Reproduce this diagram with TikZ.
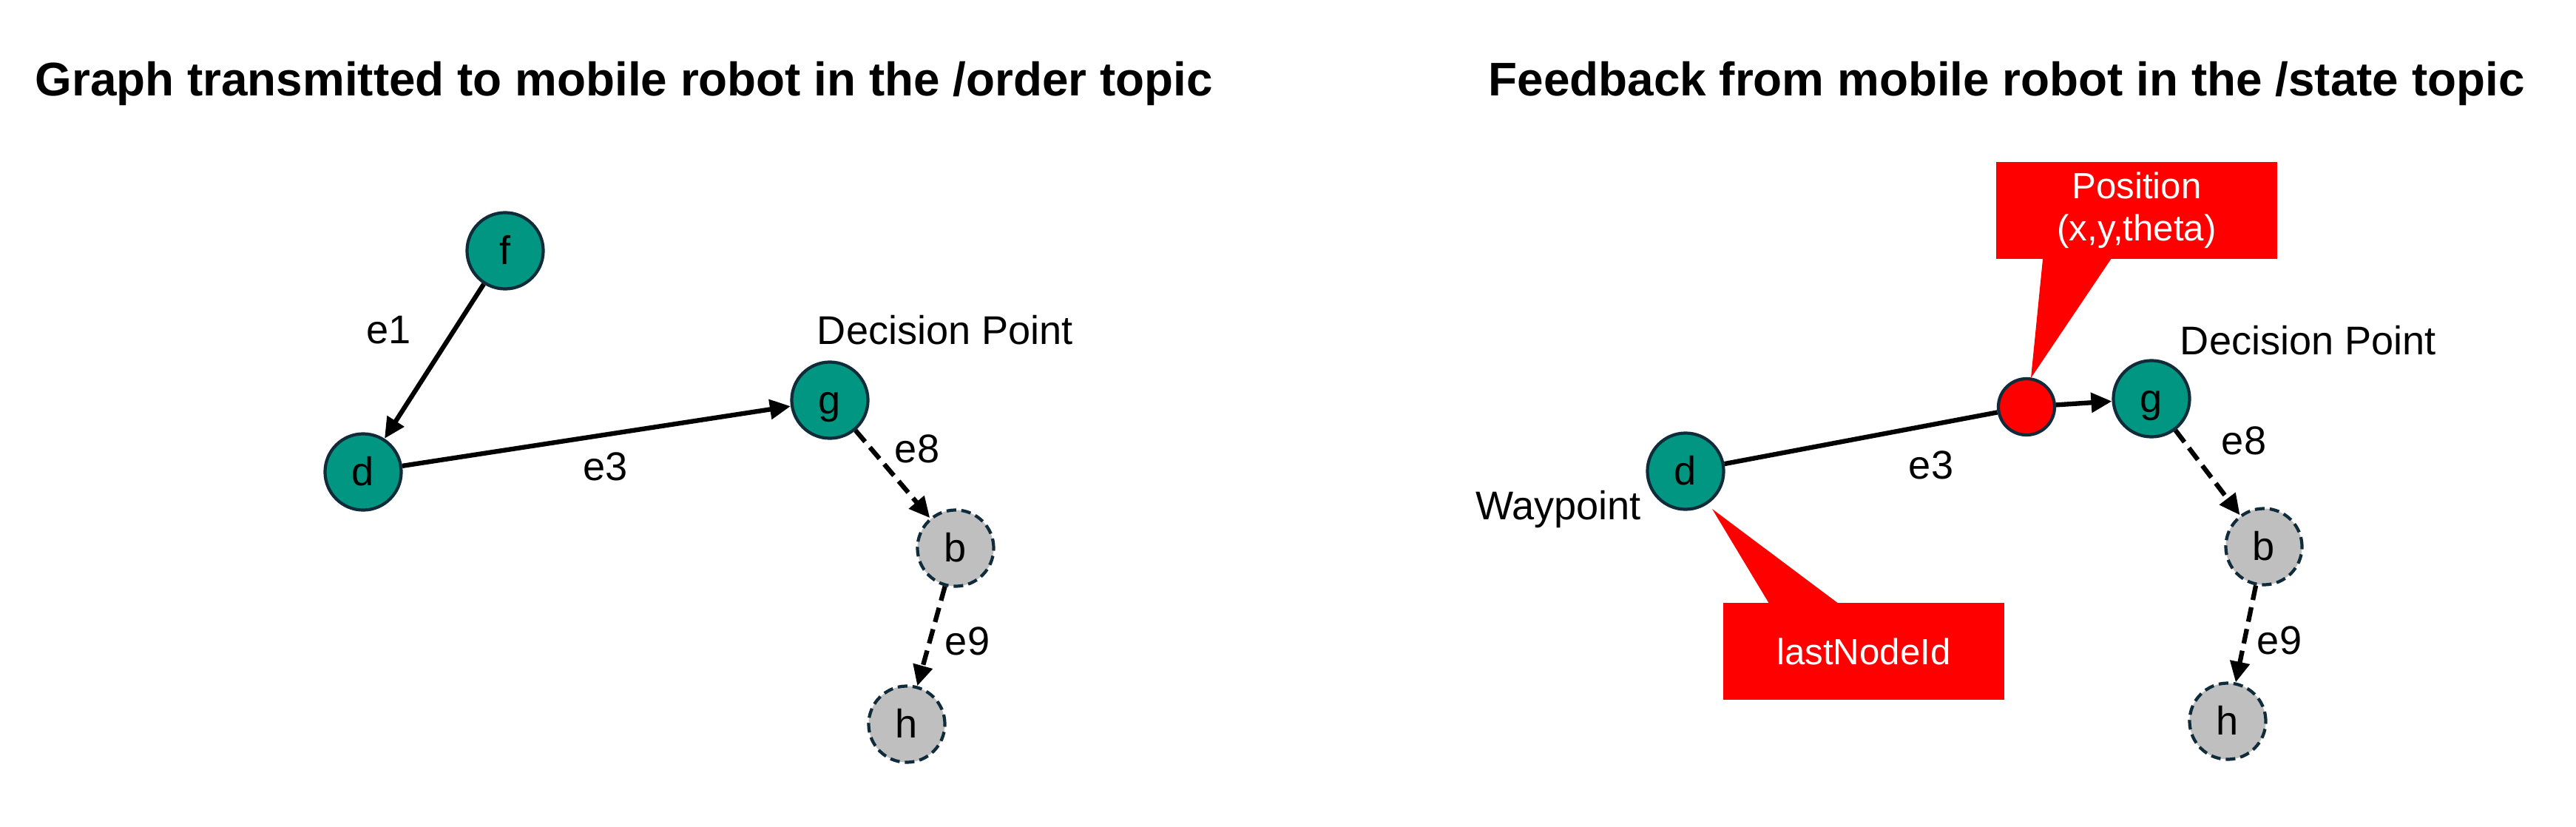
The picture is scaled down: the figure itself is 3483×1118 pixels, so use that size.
\documentclass[tikz,border=0pt]{standalone}
\usepackage{fontspec}
\setmainfont{Liberation Sans}
\usetikzlibrary{arrows.meta,calc}
\definecolor{tealfill}{RGB}{0,150,130}
\definecolor{navyline}{RGB}{16,43,58}
\definecolor{grayfill}{RGB}{191,191,191}
\definecolor{calloutred}{RGB}{255,0,0}
\tikzset{
  vtx/.style={circle,draw=navyline,line width=1.2pt,fill=tealfill,minimum size=1.03cm,inner sep=0pt,
    font=\fontsize{15.4pt}{18pt}\selectfont,text height=0.49cm,text depth=0.116cm},
  ghost/.style={vtx,fill=grayfill,dash pattern=on 0.13cm off 0.07cm},
  robot/.style={circle,draw=navyline,line width=1.2pt,fill=calloutred,minimum size=0.76cm,inner sep=0pt},
  lbl/.style={font=\fontsize{15.4pt}{18pt}\selectfont,inner sep=0pt},
  ttl/.style={font=\fontsize{18.15pt}{21pt}\selectfont\bfseries,inner sep=0pt,anchor=base west},
  edge/.style={line width=1.8pt,-{Triangle[length=0.28cm,width=0.26cm]}},
  plainedge/.style={line width=1.8pt},
  dashedge/.style={edge,dash pattern=on 0.2cm off 0.1cm},
  callout/.style={fill=calloutred,text=white,inner sep=0pt,align=center,
    font=\fontsize{14pt}{16.2pt}\selectfont},
}
\begin{document}
\begin{tikzpicture}[x=0.01cm,y=-0.01cm]
\useasboundingbox (0,0) rectangle (3483,1118);
% titles
\node[ttl] (t1) at (47,129) {Graph transmitted to mobile robot in the /order topic};
\node[ttl] (t2) at (2012,129) {Feedback from mobile robot in the /state topic};
% left graph
\node[vtx] (f) at (683,339) {f};
\node[vtx] (d) at (491,638) {d};
\node[vtx] (g) at (1122,541) {g};
\node[ghost] (b) at (1292,741) {b};
\node[ghost] (h) at (1226,979) {h};
\draw[edge] (f) -- (d);
\draw[edge] (d) -- (g);
\draw[dashedge] (g) -- (b);
\draw[dashedge] (b) -- (h);
\node[lbl] (le1) at (526,446) {e1};
\node[lbl] (le3) at (819,631) {e3};
\node[lbl] (le8) at (1240,607) {e8};
\node[lbl] (le9) at (1308,867) {e9};
\node[lbl] (ldp) at (1278,446) {Decision Point};
% right graph
\node[vtx] (rd) at (2279,637) {d};
\node[robot] (rr) at (2740,550) {};
\node[vtx] (rg) at (2909,539) {g};
\node[ghost] (rb) at (3061,739) {b};
\node[ghost] (rh) at (3012,975) {h};
\draw[plainedge] (rd) -- (rr);
\draw[edge] (rr) -- (rg);
\draw[dashedge] (rg) -- (rb);
\draw[dashedge] (rb) -- (rh);
\node[lbl] (re3) at (2611,629) {e3};
\node[lbl] (re8) at (3034,596) {e8};
\node[lbl] (re9) at (3082,866) {e9};
\node[lbl] (rdp) at (3121,460) {Decision Point};
\node[lbl] (rwp) at (2107,688) {Waypoint};
% callouts
\node[callout,minimum width=3.80cm,minimum height=1.31cm] (pos) at (2889,284.5) {Position\\(x,y,theta)};
\coordinate (postip) at (2746,511);
\fill[calloutred] ($(pos.south west)+(64,-2)$) -- (postip) -- ($(pos.south west)+(157,-2)$) -- cycle;
\node[callout,minimum width=3.80cm,minimum height=1.31cm] (lni) at (2520,880.5) {lastNodeId};
\coordinate (lnitip) at (2315,688);
\fill[calloutred] ($(lni.north west)+(63,2)$) -- (lnitip) -- ($(lni.north west)+(157,2)$) -- cycle;
\end{tikzpicture}
\end{document}
